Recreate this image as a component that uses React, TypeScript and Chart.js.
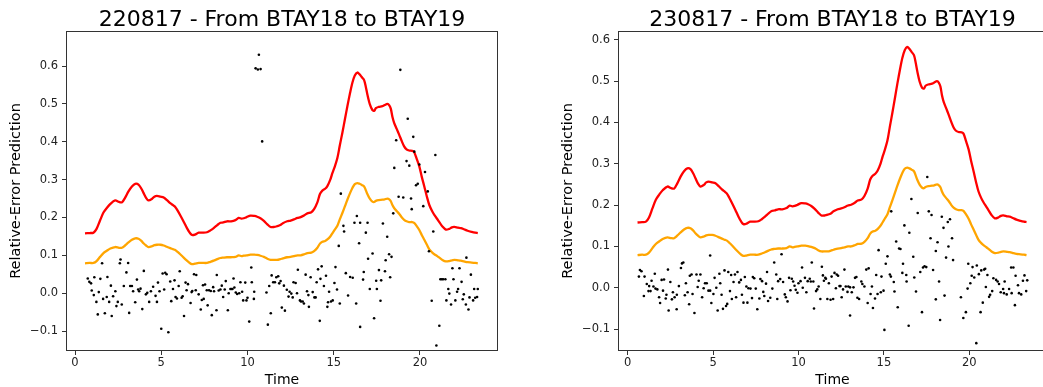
import React, { useEffect, useRef } from "react";
import { Chart, registerables } from "chart.js";

Chart.register(...registerables);

const FONT = '"DejaVu Sans", sans-serif';

const TITLES = ["220817 - From BTAY18 to BTAY19", "230817 - From BTAY18 to BTAY19"];
const X_LABEL = "Time";
const Y_LABEL = "Relative-Error Prediction";
const X_TICKS = [0, 5, 10, 15, 20];
const Y_TICKS = [-0.1, 0, 0.1, 0.2, 0.3, 0.4, 0.5, 0.6];

const LINE_T = [
  0.58, 0.85, 1.07, 1.25, 1.45, 1.65, 1.84, 2.05, 2.33, 2.55, 2.72, 2.9, 3.1, 3.3, 3.49, 3.68, 3.85, 3.97,
  4.12, 4.26, 4.46, 4.6, 4.75, 4.95, 5.14, 5.35, 5.52, 5.7, 5.81, 5.95, 6.1, 6.3, 6.49, 6.65, 6.78, 6.95,
  7.17, 7.4, 7.65, 7.85, 8.04, 8.25, 8.43, 8.6, 8.81, 9.05, 9.3, 9.49, 9.65, 9.78, 9.95, 10.17, 10.4,
  10.56, 10.75, 10.95, 11.15, 11.34, 11.55, 11.72, 11.9, 12.05, 12.3, 12.5, 12.69, 12.9, 13.08, 13.3,
  13.47, 13.7, 13.86, 14.05, 14.2, 14.34, 14.5, 14.63, 14.8, 14.92, 15.05, 15.21, 15.35, 15.5, 15.65,
  15.79, 15.95, 16.08, 16.22, 16.37, 16.5, 16.62, 16.76, 16.86, 16.95, 17.1, 17.24, 17.35, 17.44, 17.6,
  17.82, 17.95, 18.11, 18.22, 18.31, 18.4, 18.5, 18.65, 18.79, 18.95, 19.08, 19.22, 19.37, 19.55, 19.66,
  19.8, 19.96, 20.1, 20.25, 20.4, 20.54, 20.7, 20.83, 21.0, 21.12, 21.3, 21.5, 21.7, 21.85, 21.99, 22.2,
  22.37, 22.55, 22.76, 23.0, 23.2, 23.35,
];
const RED_V = [
  0.158, 0.159, 0.16, 0.17, 0.192, 0.213, 0.225, 0.236, 0.245, 0.241, 0.24, 0.252, 0.269, 0.282, 0.289,
  0.287, 0.276, 0.265, 0.252, 0.245, 0.249, 0.255, 0.257, 0.255, 0.253, 0.245, 0.238, 0.232, 0.228, 0.218,
  0.206, 0.189, 0.172, 0.16, 0.154, 0.155, 0.16, 0.16, 0.161, 0.166, 0.172, 0.18, 0.186, 0.187, 0.19, 0.19,
  0.193, 0.199, 0.197, 0.198, 0.201, 0.205, 0.204, 0.202, 0.198, 0.191, 0.182, 0.175, 0.175, 0.177, 0.18,
  0.185, 0.19, 0.192, 0.195, 0.199, 0.201, 0.206, 0.211, 0.214, 0.222, 0.24, 0.262, 0.271, 0.276, 0.283,
  0.3, 0.317, 0.333, 0.357, 0.39, 0.424, 0.46, 0.494, 0.53, 0.556, 0.575, 0.583, 0.578, 0.571, 0.563,
  0.545, 0.525, 0.498, 0.484, 0.482, 0.489, 0.492, 0.494, 0.497, 0.5, 0.496, 0.487, 0.466, 0.45, 0.434,
  0.419, 0.401, 0.388, 0.38, 0.377, 0.376, 0.373, 0.356, 0.335, 0.308, 0.282, 0.255, 0.233, 0.217, 0.207,
  0.196, 0.188, 0.176, 0.168, 0.17, 0.174, 0.175, 0.173, 0.172, 0.169, 0.165, 0.162, 0.16, 0.159,
];
const ORANGE_V = [
  0.079, 0.08, 0.08, 0.085, 0.096, 0.106, 0.112, 0.118, 0.122, 0.12, 0.12, 0.126, 0.134, 0.141, 0.145,
  0.144, 0.138, 0.132, 0.126, 0.122, 0.124, 0.127, 0.128, 0.128, 0.126, 0.122, 0.119, 0.116, 0.114, 0.109,
  0.103, 0.094, 0.086, 0.08, 0.077, 0.078, 0.08, 0.08, 0.08, 0.083, 0.086, 0.09, 0.093, 0.094, 0.095,
  0.095, 0.096, 0.1, 0.098, 0.099, 0.1, 0.102, 0.102, 0.101, 0.099, 0.096, 0.091, 0.088, 0.088, 0.088,
  0.09, 0.092, 0.095, 0.096, 0.098, 0.1, 0.1, 0.103, 0.106, 0.107, 0.111, 0.12, 0.131, 0.136, 0.138,
  0.142, 0.15, 0.158, 0.167, 0.178, 0.195, 0.212, 0.23, 0.247, 0.265, 0.278, 0.288, 0.291, 0.289, 0.286,
  0.282, 0.272, 0.262, 0.249, 0.242, 0.241, 0.244, 0.246, 0.247, 0.248, 0.25, 0.248, 0.243, 0.233, 0.225,
  0.217, 0.21, 0.2, 0.194, 0.19, 0.188, 0.188, 0.186, 0.178, 0.167, 0.154, 0.141, 0.128, 0.116, 0.108,
  0.103, 0.098, 0.094, 0.088, 0.084, 0.085, 0.087, 0.088, 0.087, 0.086, 0.084, 0.082, 0.081, 0.08, 0.079,
];

const LEFT_PTS = [
  [1.57, 0.079], [2.64, 0.089], [2.6, 0.079], [3.08, 0.08], [2.98, 0.055], [3.99, 0.059], [0.74, 0.039],
  [0.83, 0.03], [0.93, 0.026], [1.12, 0.042], [1.47, 0.038], [1.88, 0.043], [0.97, 0.007], [1.09, -0.005],
  [1.38, 0.003], [1.24, -0.023], [1.63, -0.015], [1.84, -0.01], [1.98, -0.023], [2.08, 0.02], [2.21, -0.008],
  [2.34, 0.005], [2.48, -0.023], [2.4, -0.034], [2.71, -0.03], [2.83, 0.019], [3.14, -0.052], [1.32, -0.056],
  [1.73, -0.053], [2.13, -0.06], [3.2, 0.019], [3.3, 0.019], [3.37, 0.005], [3.49, -0.024], [3.59, 0.036],
  [3.66, 0.01], [3.72, 0.005], [3.8, 0.012], [3.9, -0.042], [4.11, -0.003], [4.19, 0.001], [4.3, -0.023],
  [4.4, 0.005], [4.53, 0.017], [4.67, -0.007], [4.75, -0.023], [4.81, 0.028], [4.9, 0.005], [5.0, -0.094],
  [5.08, 0.052], [5.17, 0.01], [5.23, 0.054], [5.31, 0.05], [5.41, -0.103], [5.52, 0.031], [5.58, -0.021],
  [5.68, 0.011], [5.77, 0.034], [5.83, -0.01], [5.91, -0.014], [6.01, 0.019], [6.07, 0.058], [6.18, -0.012],
  [6.24, -0.008], [6.32, -0.06], [6.41, 0.028], [6.47, 0.008], [6.55, 0.024], [6.7, -0.026], [6.76, 0.003],
  [6.8, 0.006], [6.9, 0.05], [7.03, 0.048], [7.0, 0.008], [7.17, -0.003], [7.29, -0.043], [7.35, -0.018],
  [7.46, -0.015], [7.42, 0.021], [7.54, 0.023], [7.64, 0.008], [7.69, -0.032], [7.77, 0.008], [7.87, 0.006],
  [7.93, -0.058], [8.01, 0.016], [8.06, 0.005], [8.2, -0.045], [8.22, 0.048],
  [8.33, 0.007], [8.43, 0.01], [8.51, 0.02], [8.59, -0.01], [8.68, 0.01], [8.74, 0.032], [8.86, -0.045],
  [8.91, 0.0], [9.01, 0.011], [9.07, 0.011], [9.13, 0.011], [9.19, 0.039], [9.24, 0.015], [9.32, 0.002],
  [9.4, -0.002], [9.52, 0.0], [9.59, 0.029], [9.69, 0.004], [9.75, -0.019], [9.87, 0.028], [9.94, -0.019],
  [10.0, -0.012], [10.1, -0.075], [10.22, 0.068], [10.25, 0.029], [10.39, 0.004], [10.37, -0.015],
  [11.1, 0.002], [11.18, -0.083], [11.26, 0.019], [11.35, -0.053], [11.4, 0.047], [11.49, 0.029],
  [11.59, 0.029], [11.67, 0.042], [11.78, 0.045], [11.84, 0.026], [11.92, 0.032], [11.99, -0.038],
  [12.11, 0.02], [12.17, -0.046], [12.28, 0.009], [12.38, -0.009], [12.44, 0.004], [12.54, -0.001],
  [12.62, -0.011], [12.67, 0.029], [12.79, 0.027], [12.87, 0.0], [12.92, 0.062], [13.04, -0.019],
  [13.1, -0.022], [13.2, -0.022], [13.27, -0.027], [13.37, 0.049], [13.45, 0.005], [13.56, -0.036],
  [13.53, -0.005], [13.66, 0.042], [13.78, 0.003], [13.88, -0.011], [13.95, -0.011], [14.01, 0.029],
  [14.09, 0.063], [14.19, -0.073], [14.23, 0.038], [14.3, 0.071], [14.43, 0.019], [14.55, 0.046],
  [14.63, -0.036], [14.67, -0.024], [14.73, 0.004], [14.84, -0.022], [14.94, -0.019], [15.04, 0.027],
  [15.1, 0.069], [15.19, 0.01], [15.29, 0.125], [15.35, -0.027], [15.56, 0.178], [15.6, 0.163],
  [15.7, 0.053], [15.83, -0.006], [15.95, 0.043], [16.1, 0.041], [16.2, 0.186], [16.3, -0.027],
  [16.47, 0.132], [16.53, -0.089],
  [18.86, 0.59], [19.29, 0.461], [19.61, 0.413], [18.62, 0.404], [19.67, 0.374], [20.89, 0.365],
  [18.51, 0.331], [19.22, 0.349], [19.38, 0.337], [19.96, 0.34], [20.29, 0.32], [19.77, 0.285],
  [19.87, 0.289], [20.45, 0.269], [18.76, 0.255], [19.03, 0.253], [19.48, 0.25], [19.52, 0.222],
  [20.19, 0.23], [18.45, 0.211], [16.34, 0.204], [16.53, 0.186], [16.96, 0.186], [17.85, 0.184],
  [16.86, 0.16], [18.1, 0.149], [20.77, 0.163], [20.52, 0.111], [17.25, 0.105], [16.99, 0.091],
  [18.21, 0.103], [18.35, 0.096], [18.01, 0.087], [16.74, 0.056], [17.62, 0.061], [17.97, 0.058],
  [16.7, 0.036], [17.46, 0.033], [17.75, 0.034], [18.27, 0.042], [17.09, 0.011], [17.5, 0.011],
  [17.71, -0.02], [17.34, -0.066], [20.68, -0.02], [21.12, -0.086], [20.95, -0.138], [21.88, 0.066],
  [22.29, 0.066], [22.69, 0.094], [22.95, 0.049], [21.18, 0.037], [21.26, 0.037], [21.34, 0.037],
  [21.47, 0.037], [21.94, 0.037], [22.41, 0.03], [21.64, 0.011], [21.7, -0.001], [22.21, 0.011],
  [22.15, 0.004], [22.54, -0.003], [22.87, -0.011], [23.14, 0.011], [23.35, 0.011], [23.31, -0.01],
  [21.53, -0.019], [21.8, -0.03], [22.05, -0.019], [22.48, -0.016], [22.66, -0.03], [22.81, -0.043],
  [23.08, -0.019], [23.2, -0.012],
  [10.47, 0.594], [10.6, 0.591], [10.76, 0.592], [10.66, 0.63], [10.85, 0.401], [15.41, 0.263],
];

const RIGHT_PTS = [
  [4.83, 0.078], [3.18, 0.059], [3.26, 0.061], [3.12, 0.048], [2.36, 0.044], [0.72, 0.043], [0.81, 0.04],
  [0.66, 0.027], [0.99, 0.027], [1.59, 0.034], [1.4, 0.017], [1.12, 0.009], [1.26, 0.004], [1.22, -0.008],
  [1.34, -0.008], [0.95, -0.02], [1.51, 0.003], [1.63, -0.002], [1.74, -0.004], [1.84, -0.023], [1.9, -0.037],
  [1.99, 0.019], [2.13, 0.02], [2.07, -0.007], [2.27, -0.017], [2.23, -0.026], [2.4, -0.055], [2.5, 0.014],
  [2.59, -0.028], [2.65, -0.011], [2.75, -0.023], [2.87, -0.052], [2.88, -0.017], [3.0, 0.004],
  [3.35, -0.018], [3.41, 0.011], [3.51, -0.011], [3.6, -0.04], [3.64, 0.029], [3.74, 0.032], [3.8, -0.015],
  [3.91, -0.061], [4.03, 0.032], [4.1, 0.002], [4.16, 0.017], [4.26, 0.032], [4.36, -0.023], [4.45, -0.001],
  [4.53, 0.011], [4.63, 0.011], [4.73, -0.007], [4.83, -0.007], [4.9, -0.037], [5.02, -0.015], [5.09, 0.024],
  [5.19, 0.0], [5.27, -0.055], [5.37, 0.034], [5.42, 0.011], [5.5, -0.017], [5.58, -0.051], [5.67, 0.042],
  [5.76, -0.044], [5.83, -0.039], [5.89, 0.038], [5.99, -0.008], [6.06, 0.031], [6.1, -0.027], [6.2, 0.014],
  [6.28, 0.032], [6.35, -0.023], [6.43, 0.038], [6.53, 0.013], [6.63, 0.019], [6.69, -0.017], [6.78, -0.036],
  [6.86, 0.026], [6.95, 0.003], [7.01, -0.036], [7.07, -0.001], [7.19, -0.002], [7.28, -0.025], [7.33, 0.026],
  [7.41, 0.023], [7.5, -0.002], [7.59, -0.052], [7.71, -0.026], [7.77, 0.021], [7.87, 0.016], [7.94, -0.01],
  [8.0, -0.02], [8.1, 0.01], [8.16, 0.038], [8.22, -0.032],
  [8.35, -0.024], [8.47, -0.002], [8.58, 0.061], [8.7, 0.032], [8.76, -0.027], [8.81, 0.016], [8.93, 0.021],
  [9.01, 0.081], [9.1, 0.014], [9.2, -0.016], [9.26, -0.023], [9.36, -0.033], [9.45, 0.024], [9.53, -0.006],
  [9.61, 0.022], [9.69, 0.015], [9.77, 0.005], [9.84, -0.005], [9.94, -0.012], [10.0, 0.011], [10.12, 0.016],
  [10.21, 0.049], [10.25, 0.0], [10.38, 0.024], [10.46, -0.011], [10.54, 0.016], [10.66, 0.022],
  [10.72, 0.015], [10.78, 0.061], [10.87, 0.015], [10.91, -0.05], [11.03, -0.008], [11.1, -0.004],
  [11.18, 0.003], [11.28, -0.027], [11.37, 0.051], [11.43, 0.03], [11.49, 0.017], [11.57, 0.024],
  [11.61, 0.022], [11.69, -0.027], [11.78, 0.011], [11.88, -0.029], [11.94, 0.027], [12.03, -0.027],
  [12.11, 0.036], [12.19, -0.001], [12.24, 0.032], [12.32, 0.029], [12.4, 0.004], [12.46, 0.004],
  [12.53, -0.023], [12.61, -0.004], [12.69, 0.044], [12.77, 0.003], [12.87, -0.01], [12.92, 0.003],
  [13.02, -0.067], [13.02, 0.001], [13.12, -0.011], [13.22, 0.001], [13.31, 0.024], [13.39, 0.026],
  [13.45, -0.024], [13.55, -0.027], [13.68, 0.015], [13.74, 0.009], [13.86, 0.003], [13.97, 0.044],
  [14.05, -0.037], [14.11, 0.047], [14.22, -0.015], [14.3, 0.003], [14.36, -0.049], [14.48, -0.026],
  [14.55, 0.031], [14.63, -0.015], [14.69, 0.091], [14.82, -0.011], [14.86, 0.027], [14.98, -0.007],
  [15.03, -0.102], [15.11, 0.058], [15.21, 0.076], [15.35, 0.032], [15.41, 0.027], [15.58, 0.014],
  [15.62, -0.009], [15.72, 0.112], [15.81, -0.047], [15.89, 0.095], [15.97, 0.094], [16.08, 0.036],
  [16.12, 0.058], [16.2, 0.151], [16.31, 0.031], [16.33, 0.015], [16.45, -0.092], [16.49, 0.133],
  [15.43, 0.185],
  [17.54, 0.268], [16.61, 0.215], [16.98, 0.181], [17.63, 0.185], [17.79, 0.176], [18.39, 0.172],
  [18.74, 0.159], [18.87, 0.166], [18.49, 0.145], [17.73, 0.12], [18.14, 0.11], [18.99, 0.12], [18.78, 0.1],
  [18.04, 0.089], [16.72, 0.075], [18.64, 0.073], [19.05, 0.067], [17.29, 0.049], [17.38, 0.052],
  [17.48, 0.05], [17.88, 0.043], [16.78, 0.025], [17.13, 0.038], [18.23, 0.015], [16.88, -0.009],
  [18.04, -0.028], [18.55, -0.019], [17.23, -0.059], [18.29, -0.078], [19.94, 0.058], [20.19, 0.05],
  [20.44, 0.054], [20.7, 0.042], [20.87, 0.044], [20.93, 0.046], [22.45, 0.049], [20.14, 0.029],
  [20.29, 0.025], [20.56, 0.033], [21.06, 0.031], [21.41, 0.023], [21.57, 0.019], [21.66, 0.015],
  [21.74, 0.009], [22.07, 0.015], [20.06, 0.011], [19.9, -0.002], [20.97, 0.002], [21.34, -0.008],
  [21.22, -0.017], [21.16, -0.022], [20.79, -0.036], [20.66, -0.059], [19.8, -0.059], [19.65, -0.073],
  [19.51, -0.023], [20.41, -0.134], [22.58, 0.049], [22.71, 0.029], [23.23, 0.03], [23.14, 0.017],
  [23.39, 0.018], [22.85, 0.006], [22.33, -0.003], [22.48, -0.013], [22.19, -0.016], [21.84, -0.011],
  [21.98, -0.003], [22.91, -0.013], [23.04, -0.016], [23.33, -0.008], [22.67, -0.042], [22.03, -0.013],
];

const framePlugin = {
  id: "frameAndTitle",
  afterDatasetsDraw(chart: any) {
    const { ctx, chartArea: a } = chart;
    ctx.save();
    ctx.strokeStyle = "#333";
    ctx.lineWidth = 1;
    ctx.strokeRect(a.left - 0.5, a.top - 0.5, a.right - a.left + 1, a.bottom - a.top + 1);
    ctx.restore();
  },
  afterDraw(chart: any, _args: any, opts: any) {
    const { ctx, chartArea: a } = chart;
    ctx.save();
    ctx.fillStyle = "#000";
    ctx.font = `22px ${FONT}`;
    ctx.textAlign = "center";
    ctx.textBaseline = "alphabetic";
    ctx.fillText(opts.text, (a.left + a.right) / 2, opts.y);
    ctx.restore();
  },
};

function makeConfig(title: string, pts: number[][], xMin: number, xMax: number, yMin: number, yMax: number, padLeft: number, padRight: number): any {
  const toXY = (vals: number[]) => LINE_T.map((t, i) => ({ x: t, y: vals[i] }));
  return {
    type: "scatter",
    data: {
      datasets: [
        {
          data: pts.map(([x, y]) => ({ x, y })),
          pointRadius: 1.3,
          pointBackgroundColor: "#000",
          pointBorderWidth: 0,
          showLine: false,
        },
        {
          data: toXY(RED_V),
          showLine: true,
          pointRadius: 0,
          borderColor: "#ff0000",
          borderWidth: 2.3,
          tension: 0.3,
        },
        {
          data: toXY(ORANGE_V),
          showLine: true,
          pointRadius: 0,
          borderColor: "#ffa500",
          borderWidth: 2.3,
          tension: 0.3,
        },
      ],
    },
    options: {
      animation: false,
      responsive: false,
      devicePixelRatio: 1,
      events: [],
      layout: { padding: { left: padLeft, right: padRight, top: 32, bottom: 0 } },
      plugins: {
        legend: { display: false },
        tooltip: { enabled: false },
        title: { display: false },
        frameAndTitle: { text: title, y: 26 },
      },
      scales: {
        x: {
          type: "linear",
          min: xMin,
          max: xMax,
          afterBuildTicks: (axis: any) => {
            axis.ticks = X_TICKS.map((v) => ({ value: v }));
          },
          afterFit: (axis: any) => {
            axis.height = 37;
          },
          border: { display: false },
          grid: { drawOnChartArea: false, drawTicks: true, tickLength: 5, tickColor: "#333", tickWidth: 1 },
          ticks: {
            padding: 1,
            color: "#222",
            font: { family: FONT, size: 11.5 },
            maxRotation: 0,
            callback: (v: number) => String(v),
          },
          title: {
            display: true,
            text: X_LABEL,
            color: "#000",
            font: { family: FONT, size: 14, lineHeight: 1 },
            padding: { top: 0, bottom: 0 },
          },
        },
        y: {
          type: "linear",
          min: yMin,
          max: yMax,
          afterBuildTicks: (axis: any) => {
            axis.ticks = Y_TICKS.map((v) => ({ value: v }));
          },
          afterFit: (axis: any) => {
            axis.width = 67;
          },
          border: { display: false },
          grid: { drawOnChartArea: false, drawTicks: true, tickLength: 5, tickColor: "#333", tickWidth: 1 },
          ticks: {
            padding: 4,
            color: "#222",
            font: { family: FONT, size: 11.5 },
            callback: (v: number) => (v < -1e-9 ? "\u2212" : "") + Math.abs(v).toFixed(1),
          },
          title: {
            display: true,
            text: Y_LABEL,
            color: "#000",
            font: { family: FONT, size: 14.5, lineHeight: 1.2 },
            padding: { top: 7.3, bottom: 0 },
          },
        },
      },
    },
    plugins: [framePlugin],
  };
}

export default function App() {
  const leftRef = useRef<HTMLCanvasElement>(null);
  const rightRef = useRef<HTMLCanvasElement>(null);

  useEffect(() => {
    const c1 = new Chart(leftRef.current!, makeConfig(TITLES[0], LEFT_PTS, -0.464, 24.464, -0.15, 0.69, 0, 23));
    const c2 = new Chart(rightRef.current!, makeConfig(TITLES[1], RIGHT_PTS, -0.506, 24.49, -0.1506, 0.619, 32, 1));
    return () => {
      c1.destroy();
      c2.destroy();
    };
  }, []);

  return (
    <div
      style={{
        position: "fixed",
        left: 0,
        top: 0,
        width: 1043,
        height: 387,
        overflow: "hidden",
        background: "#fff",
      }}
    >
      <canvas ref={leftRef} width={520} height={387} style={{ position: "absolute", left: 0, top: 0, width: 520, height: 387 }} />
      <canvas ref={rightRef} width={530} height={387} style={{ position: "absolute", left: 520, top: 0, width: 530, height: 387 }} />
    </div>
  );
}
